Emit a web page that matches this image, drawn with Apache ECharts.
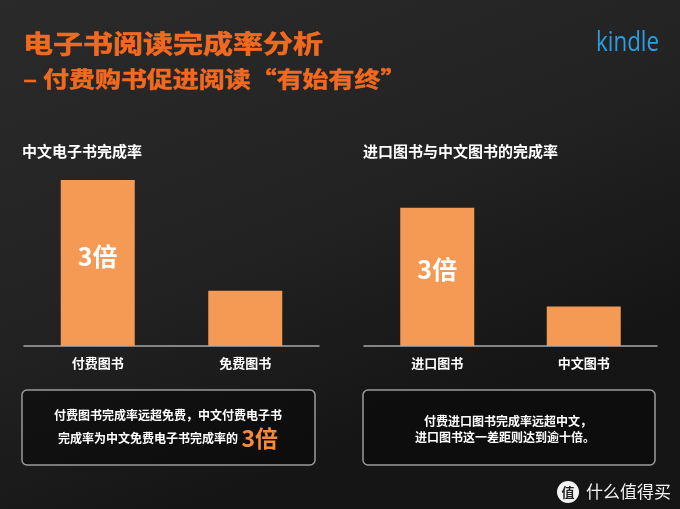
<!DOCTYPE html>
<html>
<head>
<meta charset="utf-8">
<script src="https://cdn.jsdelivr.net/npm/echarts@6/dist/echarts.min.js"></script>
<style>
html,body{margin:0;padding:0;background:#1e1e1e;}
#main{width:680px;height:509px;}
</style>
</head>
<body>
<div id="main"></div>
<script>
// ---- data ----
const leftCategories = ['付费图书', '免费图书'];
const leftValues = [3, 1];
const rightCategories = ['进口图书', '中文图书'];
const rightValues = [3.5, 1];
const barLabels = ['3倍', ''];

const titleMain = '电子书阅读完成率分析';
const titleSub = '– 付费购书促进阅读“有始有终”';
const leftTitle = '中文电子书完成率';
const rightTitle = '进口图书与中文图书的完成率';
const leftNote1 = '付费图书完成率远超免费，中文付费电子书';
const leftNote2 = '完成率为中文免费电子书完成率的';
const leftNoteEm = '3倍';
const rightNote1 = '付费进口图书完成率远超中文，';
const rightNote2 = '进口图书这一差距则达到逾十倍。';

const CJK = "'Noto Sans CJK SC', 'Noto Sans', sans-serif";
const BAR = '#F49A55';
const ORANGE = '#F2691F';

const chart = echarts.init(document.getElementById('main'), null, {renderer: 'canvas'});

function axisX(idx, cats) {
  return {
    type: 'category', gridIndex: idx, data: cats,
    axisLine: {lineStyle: {color: '#a8a8a8', width: 1.5}},
    axisTick: {show: false},
    axisLabel: {color: '#ffffff', fontFamily: CJK, fontWeight: 'bold', fontSize: 13, margin: 11}
  };
}
function axisY(idx, max) {
  return {type: 'value', gridIndex: idx, min: 0, max: max, show: false, splitLine: {show: false}};
}
function barSeries(idx, vals) {
  return {
    type: 'bar', xAxisIndex: idx, yAxisIndex: idx, barWidth: 74,
    data: vals.map((v, i) => ({value: v, label: {show: !!barLabels[i], formatter: barLabels[i]}})),
    itemStyle: {color: BAR},
    label: {position: 'inside', offset: [0, -7], color: '#ffffff', fontFamily: CJK, fontWeight: 'bold', fontSize: 25},
    emphasis: {disabled: true}
  };
}

const option = {
  backgroundColor: {
    type: 'linear', x: 0, y: 0, x2: 0.3, y2: 1,
    colorStops: [{offset: 0, color: '#2a2a2a'}, {offset: 0.55, color: '#232323'}, {offset: 1, color: '#151515'}]
  },
  animation: false,
  grid: [
    {left: 24, right: 361, top: 180, bottom: 163},
    {left: 364, right: 23, top: 180, bottom: 163}
  ],
  xAxis: [axisX(0, leftCategories), axisX(1, rightCategories)],
  yAxis: [axisY(0, 3), axisY(1, 4.2)],
  series: [barSeries(0, leftValues), barSeries(1, rightValues)],
  graphic: [
    {type: 'text', x: 23, y: 43, scaleX: 1.2, style: {text: titleMain, fill: ORANGE, font: "bold 25px " + CJK, verticalAlign: 'middle', align: 'left', stroke: ORANGE, lineWidth: 0.6}},
    {type: 'text', x: 23, y: 79, scaleX: 1.18, style: {text: titleSub, fill: ORANGE, font: "bold 22px " + CJK, verticalAlign: 'middle', align: 'left', stroke: ORANGE, lineWidth: 0.5}},
    {type: 'text', x: 596, y: 43, scaleX: 0.8, style: {text: 'kindle', fill: '#2a9ee0', font: "28px 'Open Sans', sans-serif", verticalAlign: 'middle', align: 'left'}},
    {type: 'text', x: 22, y: 151, style: {text: leftTitle, fill: '#ffffff', font: "bold 15px " + CJK, verticalAlign: 'middle', align: 'left'}},
    {type: 'text', x: 363, y: 151, style: {text: rightTitle, fill: '#ffffff', font: "bold 15px " + CJK, verticalAlign: 'middle', align: 'left'}},
    {type: 'rect', shape: {x: 22, y: 390, width: 293, height: 75, r: 5}, style: {fill: 'rgba(8,8,8,0.55)', stroke: '#9a9a9a', lineWidth: 1.5}},
    {type: 'rect', shape: {x: 363, y: 390, width: 292, height: 75, r: 5}, style: {fill: 'rgba(8,8,8,0.55)', stroke: '#9a9a9a', lineWidth: 1.5}},
    {type: 'text', x: 168, y: 415, style: {text: leftNote1, fill: '#ffffff', font: "bold 12px " + CJK, verticalAlign: 'middle', align: 'center'}},
    {type: 'text', x: 168, y: 438, style: {
      text: '{a|' + leftNote2 + '} {b|' + leftNoteEm + '}',
      verticalAlign: 'middle', align: 'center',
      rich: {
        a: {fill: '#ffffff', font: "bold 12px " + CJK, verticalAlign: 'middle'},
        b: {fill: '#F48A3A', font: "bold 23px " + CJK, verticalAlign: 'middle'}
      }
    }},
    {type: 'text', x: 508, y: 421, style: {text: rightNote1, fill: '#ffffff', font: "bold 12px " + CJK, verticalAlign: 'middle', align: 'center'}},
    {type: 'text', x: 505, y: 437, style: {text: rightNote2, fill: '#ffffff', font: "bold 12px " + CJK, verticalAlign: 'middle', align: 'center'}},
    {type: 'circle', shape: {cx: 568, cy: 492, r: 11}, style: {fill: '#f2f2f2'}},
    {type: 'text', x: 568, y: 492, style: {text: '值', fill: '#222222', font: "bold 13px " + CJK, verticalAlign: 'middle', align: 'center'}},
    {type: 'text', x: 586, y: 492, style: {text: '什么值得买', fill: '#f2f2f2', font: "17px " + CJK, verticalAlign: 'middle', align: 'left'}}
  ]
};
chart.setOption(option);
</script>
</body>
</html>
